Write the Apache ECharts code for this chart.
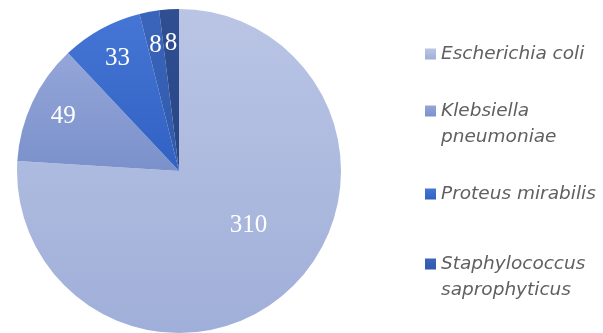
<!DOCTYPE html>
<html>
<head>
<meta charset="utf-8">
<script src="https://cdn.jsdelivr.net/npm/echarts@6/dist/echarts.min.js"></script>
<style>
  html, body { margin: 0; padding: 0; background: #fff; }
  #chart { width: 603px; height: 333px; }
</style>
</head>
<body>
<div id="chart"></div>
<script>
const names = [
  "Escherichia coli",
  "Klebsiella\npneumoniae",
  "Proteus mirabilis",
  "Staphylococcus\nsaprophyticus",
  "Other",
];
const values = [310, 49, 33, 8, 8];
const legendNames = names.slice(0, 4);

// top/bottom shades for each slice
const colorsTop = ["#bac5e5", "#94a6d9", "#4576d6", "#3a65bc", "#2f4f92"];
const colorsBottom = ["#a0afd9", "#7b91cb", "#3161c2", "#3059aa", "#294684"];

function grad(i) {
  return new echarts.graphic.LinearGradient(0, 0, 0, 1, [
    { offset: 0, color: colorsTop[i] },
    { offset: 1, color: colorsBottom[i] },
  ]);
}

const dom = document.getElementById("chart");
const myChart = echarts.init(dom, null, { renderer: "canvas" });

const center = [179, 171];
const labelFont = {
  color: "#ffffff",
  fontFamily: "Liberation Serif",
  fontSize: 25,
};

const pieData = values.map((v, i) => ({
  value: v,
  name: names[i],
  itemStyle: { color: grad(i) },
  label: { show: i === 0 },
}));

// transparent ring that carries the labels of the small slices
const ringData = values.map((v, i) => ({
  value: v,
  name: names[i],
  itemStyle: { color: "rgba(0,0,0,0)" },
  label: { show: i !== 0 },
}));

// multi-line names get a blank first line so the marker sits on the first text line
const legendTops = [36, 67, 176, 220];
const legends = legendNames.map((n, i) => ({
  data: [n],
  orient: "vertical",
  left: 420,
  top: legendTops[i],
  itemWidth: 11,
  itemHeight: 11,
  itemGap: 0,
  icon: "rect",
  selectedMode: false,
  formatter: (name) => (name.indexOf("\n") >= 0 ? "\n" + name : name),
  textStyle: {
    color: "#606060",
    fontFamily: "DejaVu Sans",
    fontStyle: "italic",
    fontSize: 18.5,
    lineHeight: 26,
  },
}));

const option = {
  animation: false,
  legend: legends,
  series: [
    {
      type: "pie",
      center: center,
      radius: 162,
      startAngle: 90,
      clockwise: true,
      data: pieData,
      label: Object.assign({ position: "inside", formatter: "{c}" }, labelFont),
      labelLine: { show: false },
      labelLayout: (p) => (p.dataIndex === 0 ? { dx: 12, dy: -7 } : {}),
      itemStyle: { borderWidth: 0 },
      emphasis: { disabled: true },
    },
    {
      type: "pie",
      center: center,
      radius: [98, 152],
      startAngle: 90,
      clockwise: true,
      data: ringData,
      legendHoverLink: false,
      label: Object.assign({ position: "inside", formatter: "{c}" }, labelFont),
      labelLine: { show: false },
      itemStyle: { borderWidth: 0 },
      emphasis: { disabled: true },
      silent: true,
    },
  ],
};

myChart.setOption(option);
window.addEventListener("resize", myChart.resize);
</script>
</body>
</html>
